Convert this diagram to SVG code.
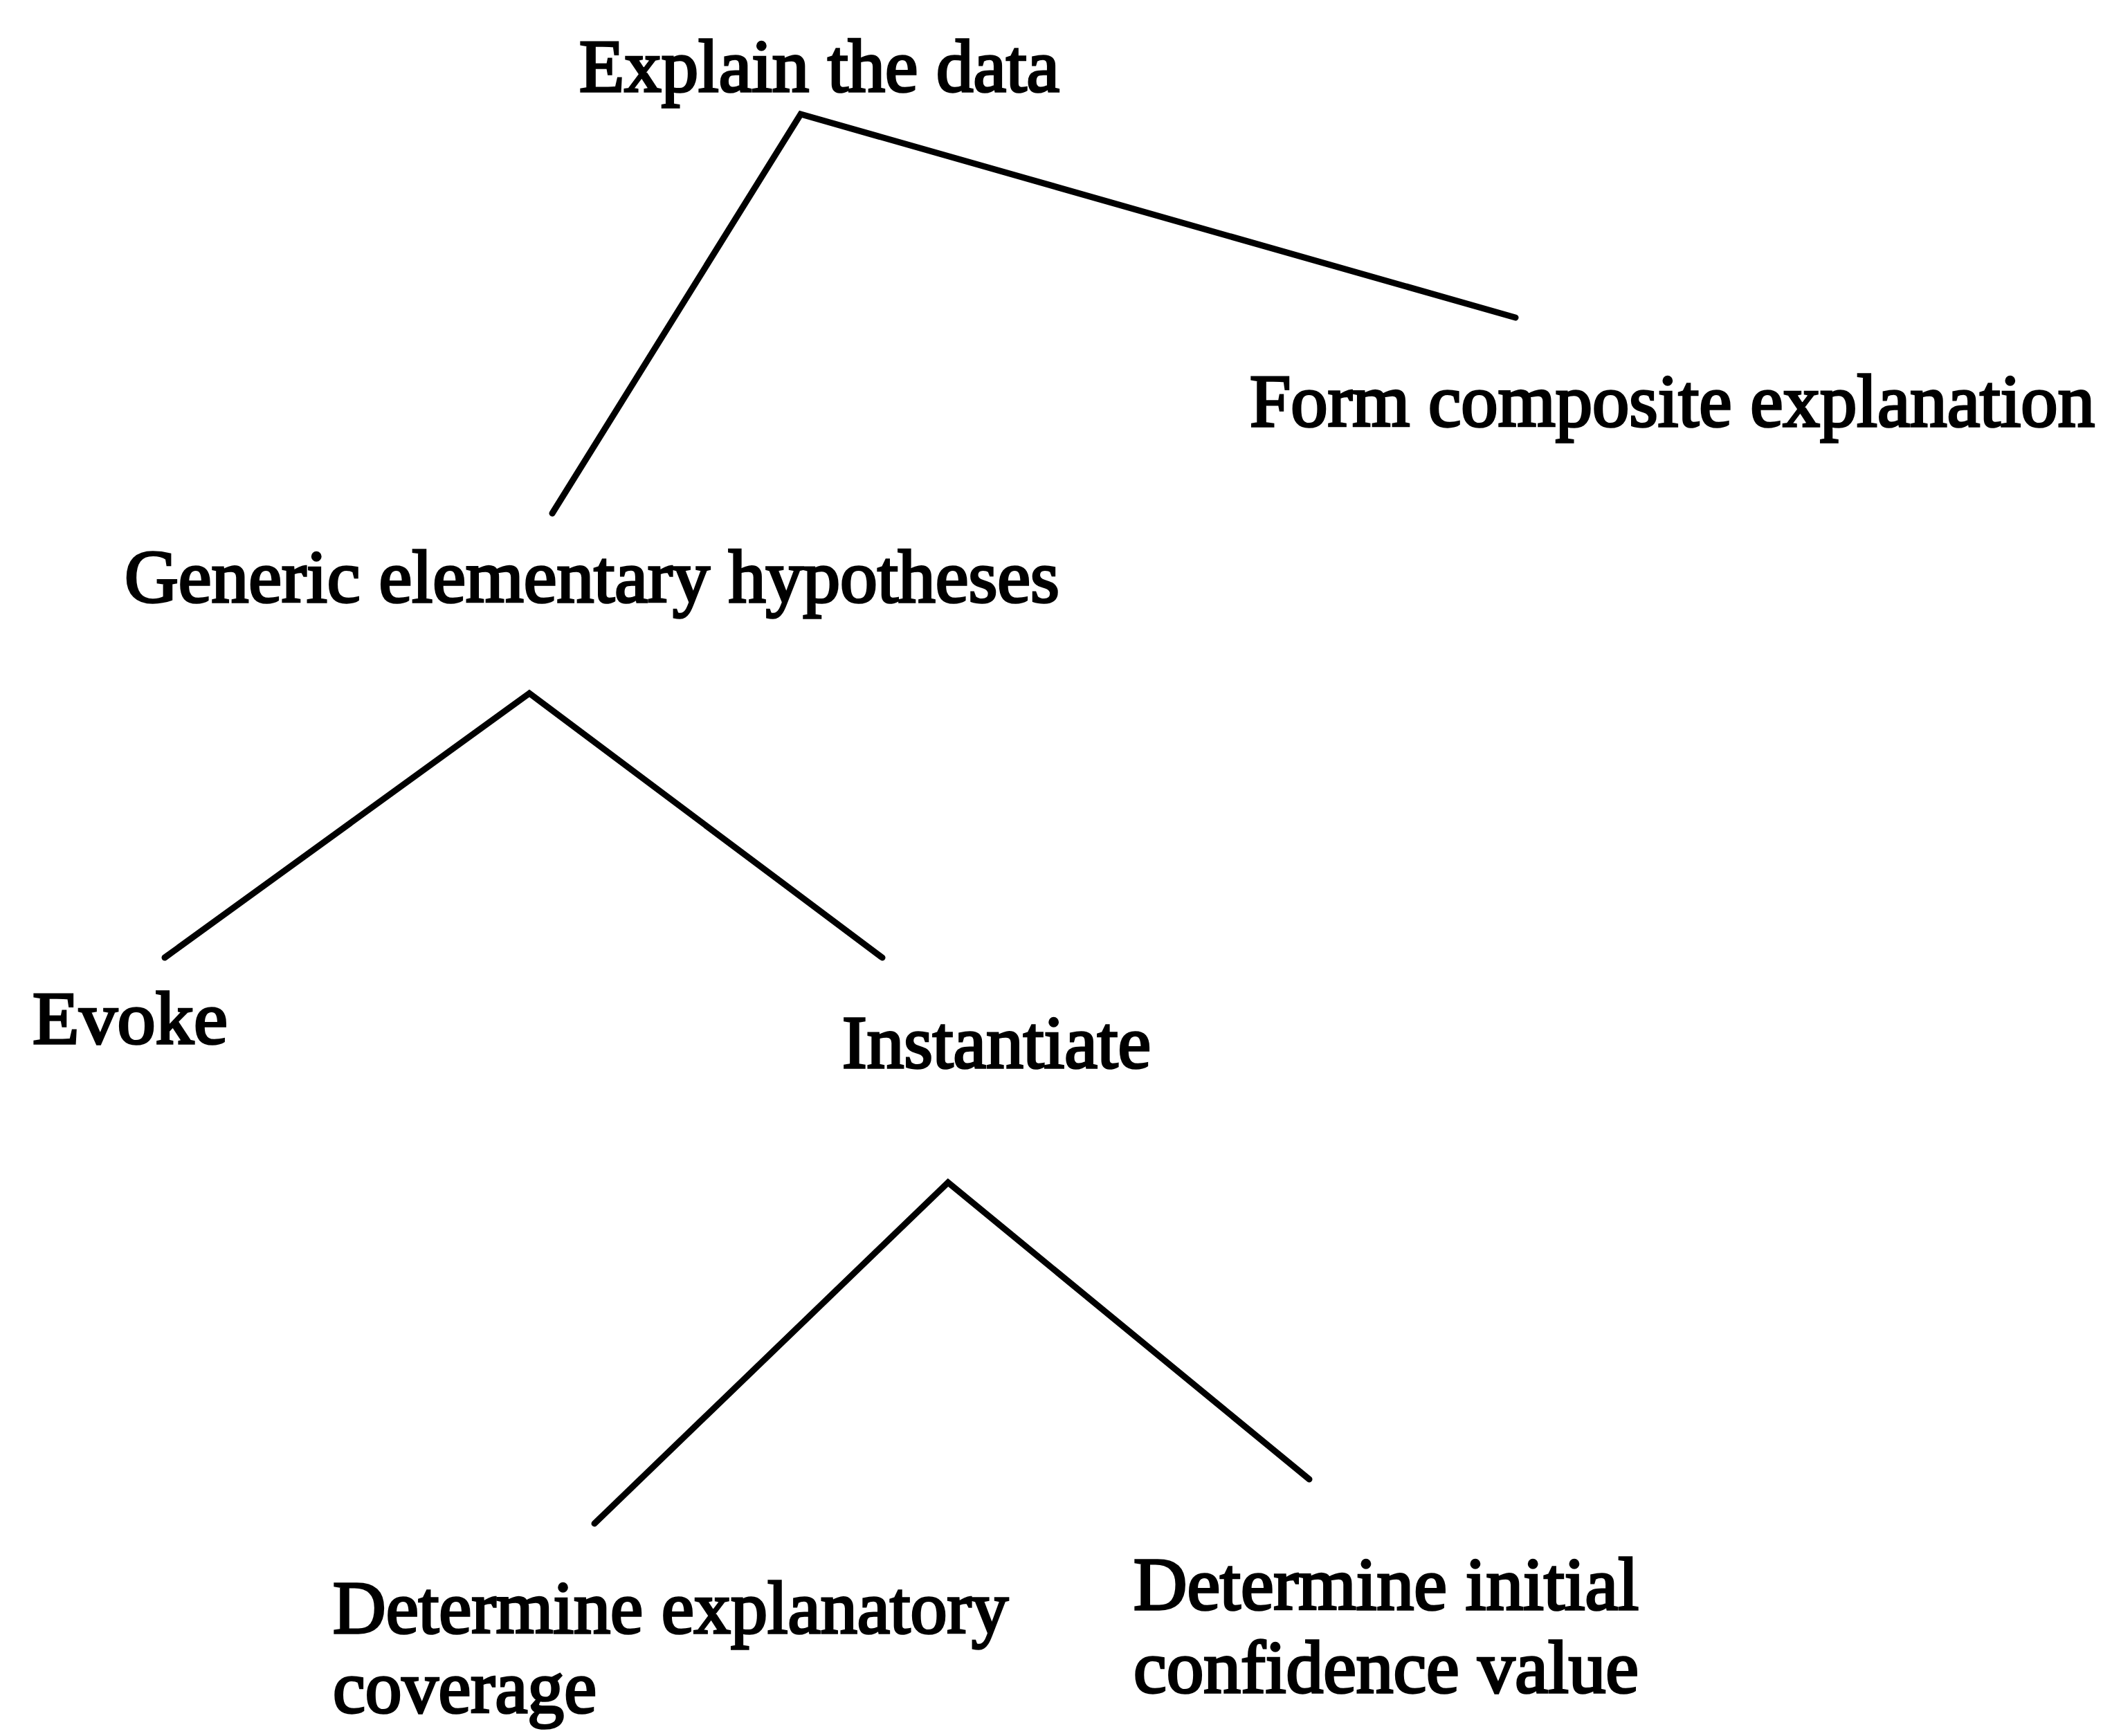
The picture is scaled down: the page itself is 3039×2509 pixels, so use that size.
<svg xmlns="http://www.w3.org/2000/svg" width="3039" height="2509" viewBox="0 0 3039 2509">
<style>
.t{font-family:"Liberation Serif","Times New Roman",serif;font-size:107px;fill:#000;stroke:#000;stroke-width:3.5}
.c{stroke:#000;stroke-width:9;fill:none;stroke-linecap:round;stroke-linejoin:miter}
</style>
<rect width="3039" height="2509" fill="#fff"/>
<g id="connectors">
<polyline class="c" points="798,742 1157,165 2190,459"/>
<polyline class="c" points="238,1384 765,1002 1275,1384"/>
<polyline class="c" points="859,2202 1370,1709 1892,2138"/>
</g>
<g id="n-explain"><text class="t" x="837" y="132" textLength="694" lengthAdjust="spacingAndGlyphs">Explain the data</text></g>
<g id="n-form"><text class="t" x="1806" y="616" textLength="1221" lengthAdjust="spacingAndGlyphs">Form composite explanation</text></g>
<g id="n-generic"><text class="t" x="180" y="870" textLength="1351" lengthAdjust="spacingAndGlyphs">Generic elementary hypotheses</text></g>
<g id="n-evoke"><text class="t" x="47" y="1508" textLength="282" lengthAdjust="spacingAndGlyphs">Evoke</text></g>
<g id="n-instantiate"><text class="t" x="1217" y="1543" textLength="446" lengthAdjust="spacingAndGlyphs">Instantiate</text></g>
<g id="n-coverage"><text class="t" x="481" y="2360" textLength="976" lengthAdjust="spacingAndGlyphs">Determine explanatory</text><text class="t" x="481" y="2475" textLength="381" lengthAdjust="spacingAndGlyphs">coverage</text></g>
<g id="n-confidence"><text class="t" x="1638" y="2326" textLength="730" lengthAdjust="spacingAndGlyphs">Determine initial</text><text class="t" x="1638" y="2446" textLength="730" lengthAdjust="spacingAndGlyphs">confidence value</text></g>
</svg>
